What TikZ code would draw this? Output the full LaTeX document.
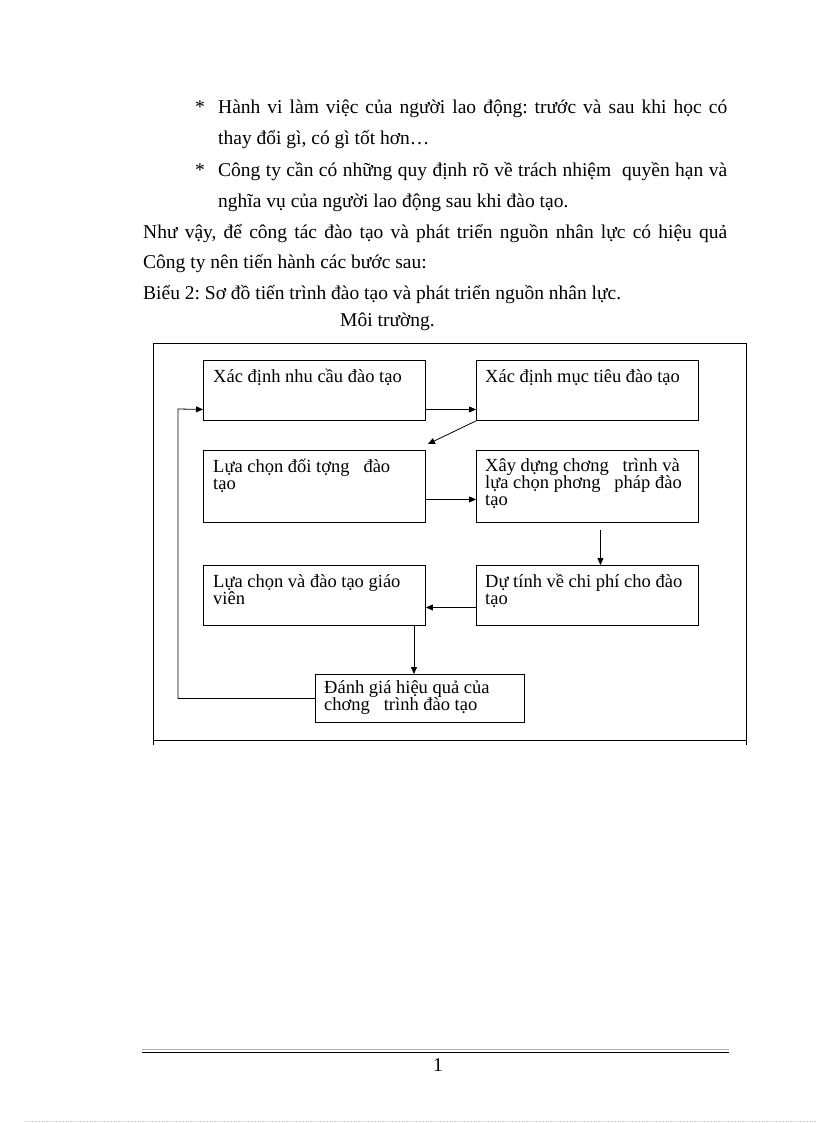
\documentclass[tikz,border=0pt]{standalone}
\usepackage{fontspec}
\setmainfont{Liberation Serif}
\usetikzlibrary{arrows.meta}
\frenchspacing
\begin{document}
\begin{tikzpicture}[x=1pt,y=-1pt,
  box/.style={draw, line width=0.9pt, rectangle, inner sep=0pt, anchor=north west, minimum width=222pt},
  body/.style={anchor=base west, inner sep=0pt, font=\fontsize{19.5}{22}\selectfont},
  btxt/.style={anchor=base west, inner sep=0pt, font=\fontsize{18.5}{17}\selectfont},
  conn/.style={line width=0.8pt, -{Triangle[length=7pt,width=6pt]}},
  ]
\useasboundingbox (0,0) rectangle (816,1123);
% body text
\node[body] (s1) at (195,114) {*};
\node[body] (l1) at (218,114) {\makebox[509pt][s]{Hành vi làm việc của người lao động: trước và sau khi học có}};
\node[body] (l2) at (218,145) {thay đổi gì, có gì tốt hơn…};
\node[body] (s2) at (195,177) {*};
\node[body] (l3) at (218,177) {\makebox[509pt][s]{Công ty cần có những quy định rõ về trách nhiệm\ \ quyền hạn và}};
\node[body] (l4) at (218,208) {nghĩa vụ của người lao động sau khi đào tạo.};
\node[body] (l5) at (143,238) {\makebox[584pt][s]{Như vậy, để công tác đào tạo và phát triển nguồn nhân lực có hiệu quả}};
\node[body] (l6) at (143,268) {Công ty nên tiến hành các bước sau:};
\node[body] (l7) at (143,299) {Biểu 2: Sơ đồ tiến trình đào tạo và phát triển nguồn nhân lực.};
\node[body] (l8) at (340,326) {Môi trường.};
% frame
\draw[line width=0.9pt] (153,745) -- (153,343) -- (746,343) -- (746,745);
\draw[line width=0.8pt] (153,740) -- (746,740);
% boxes
\node[box, minimum height=60pt] (b1) at (203,360) {};
\node[box, minimum height=60pt] (b2) at (476,360) {};
\node[box, minimum height=72pt] (b3) at (203,450) {};
\node[box, minimum height=72pt] (b4) at (476,450) {};
\node[box, minimum height=60pt] (b5) at (203,565) {};
\node[box, minimum height=60pt] (b6) at (476,565) {};
\node[box, minimum width=209pt, minimum height=48pt] (b7) at (315,674) {};
% box texts
\node[btxt] (t1) at ([shift={(10,22)}]b1.north west) {Xác định nhu cầu đào tạo};
\node[btxt] (t2) at ([shift={(9,22)}]b2.north west) {Xác định mục tiêu đào tạo};
\node[btxt] (t3) at ([shift={(10,22)}]b3.north west) {\parbox[t]{210pt}{\raggedright Lựa chọn đối tợng\ \ \ đào\\tạo}};
\node[btxt] (t4) at ([shift={(9,21)}]b4.north west) {\parbox[t]{210pt}{\raggedright Xây dựng chơng\ \ \ trình và\\lựa chọn phơng\ \ \ pháp đào\\tạo}};
\node[btxt] (t5) at ([shift={(10,22)}]b5.north west) {\parbox[t]{210pt}{\raggedright Lựa chọn và đào tạo giáo\\viên}};
\node[btxt] (t6) at ([shift={(9,22)}]b6.north west) {\parbox[t]{210pt}{\raggedright Dự tính về chi phí cho đào\\tạo}};
\node[btxt] (t7) at ([shift={(9,19)}]b7.north west) {\parbox[t]{200pt}{\raggedright Đánh giá hiệu quả của\\chơng\ \ \ trình đào tạo}};
% connectors
\draw[conn] ([yshift=-19pt]b1.east) -- ([yshift=-19pt]b2.west);
\draw[conn] (b2.south west) -- ([shift={(2,-6)}]b3.north east);
\draw[conn] ([yshift=-13pt]b3.east) -- ([yshift=-13pt]b4.west);
\coordinate (p3) at ([shift={(13,7)}]b4.south);
\draw[conn] (p3) -- (p3 |- b6.north);
\draw[conn] ([yshift=-12pt]b6.west) -- ([yshift=-12pt]b5.east);
\coordinate (p1) at ([xshift=99.5pt]b5.south);
\draw[conn] (p1) -- (p1 |- b7.north);
\coordinate (p2) at ([yshift=-19pt]b1.west);
\coordinate (fb) at (178,409);
\draw[conn] (b7.west) -| (fb) -- (p2);
% footer
\draw[gray!60, line width=1pt] (142,1049.5) -- (729,1049.5);
\draw[line width=1.3pt] (142,1052.5) -- (729,1052.5);
\node[body, anchor=base] (pg) at (438,1071) {1};
\draw[gray!50, dotted] (25,1121) -- (816,1121);
\end{tikzpicture}
\end{document}
